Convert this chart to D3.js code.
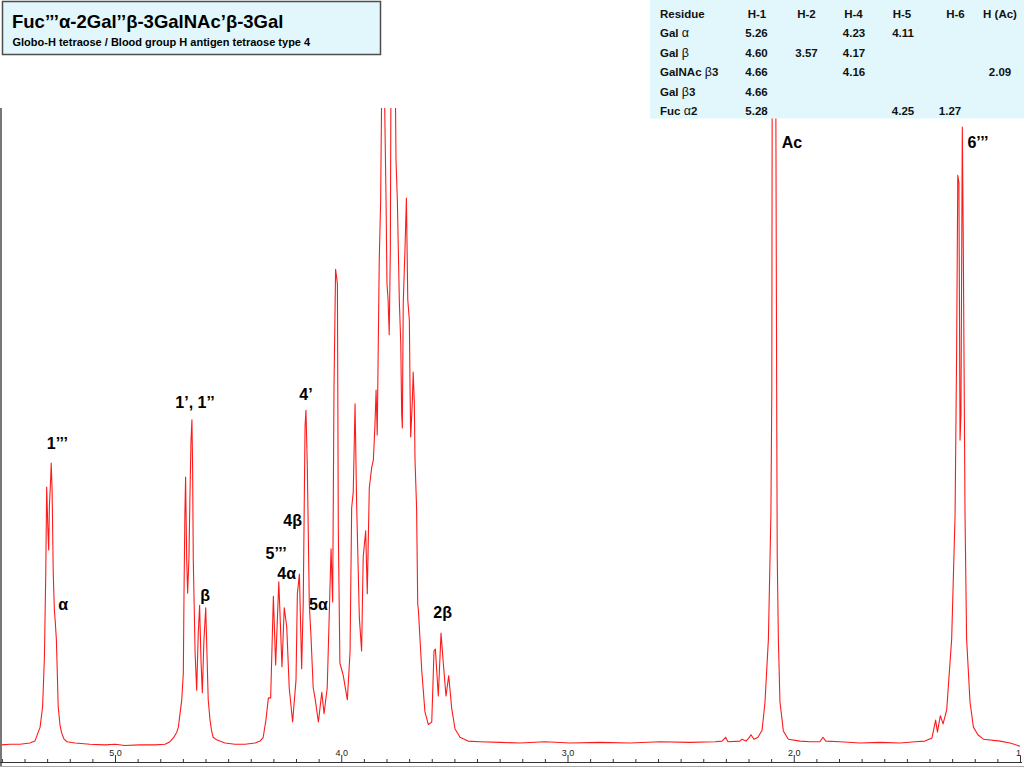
<!DOCTYPE html>
<html>
<head>
<meta charset="utf-8">
<script src="https://cdn.jsdelivr.net/npm/d3@7"></script>
<style>
body { margin: 0; background: #fff; }
svg { display: block; font-family: "Liberation Sans", Arial, sans-serif; }
</style>
</head>
<body>
<svg id="chart"></svg>
<script>
var width = 1024;
var height = 768;

// [chemical shift (ppm), intensity (% of plot height)]
var spectrum = [
  [5.508,-0.3],[5.464,-0.2],[5.420,-0.2],[5.376,0],[5.354,0.3],[5.331,2.5],[5.320,5.7],[5.312,13.5],
  [5.306,26.8],[5.302,40.3],[5.297,34.0],[5.293,30.4],[5.290,37.2],[5.284,41.9],[5.282,44.1],[5.278,39.8],
  [5.275,32.0],[5.273,26.8],[5.268,20.9],[5.264,19.1],[5.259,16.2],[5.251,5.7],[5.243,2.8],[5.236,1.6],
  [5.225,0.6],[5.212,0.2],[5.177,0],[5.111,-0.2],[5.044,-0.3],[5.000,-0.2],[4.956,-0.4],[4.890,-0.3],
  [4.823,-0.3],[4.779,-0.2],[4.757,0.2],[4.742,0.8],[4.727,1.7],[4.720,2.5],[4.705,6.8],[4.698,11.0],
  [4.695,23.6],[4.691,36.2],[4.688,41.9],[4.683,28.8],[4.679,23.6],[4.673,29.3],[4.669,38.3],[4.664,47.7],
  [4.660,50.9],[4.657,43.5],[4.654,28.8],[4.646,14.2],[4.639,8.3],[4.632,17.3],[4.626,21.7],[4.620,13.1],
  [4.614,7.9],[4.607,16.2],[4.599,21.3],[4.592,12.0],[4.588,6.8],[4.580,3.6],[4.573,1.9],[4.566,0.9],
  [4.551,0.5],[4.514,0],[4.470,-0.2],[4.425,-0.2],[4.381,0],[4.359,0.3],[4.345,0.9],[4.333,3.6],
  [4.322,7.1],[4.312,7.1],[4.300,23.1],[4.290,12.3],[4.276,25.4],[4.262,12.0],[4.252,21.3],[4.241,18.3],
  [4.230,8.7],[4.215,3.3],[4.200,9.9],[4.194,23.5],[4.185,26.6],[4.175,11.7],[4.168,22.2],[4.160,49.8],
  [4.156,52.4],[4.150,43.5],[4.141,21.6],[4.134,17.0],[4.124,8.7],[4.116,7.1],[4.101,3.3],[4.086,8.0],
  [4.076,4.6],[4.062,8.7],[4.050,24.1],[4.045,30.6],[4.038,22.2],[4.032,56.2],[4.025,74.6],[4.017,72.3],
  [4.013,33.7],[4.006,12.6],[3.991,10.6],[3.973,6.8],[3.961,14.5],[3.954,37.0],[3.947,39.5],[3.939,53.4],
  [3.932,37.6],[3.920,19.7],[3.910,14.5],[3.903,29.3],[3.892,33.4],[3.885,23.5],[3.876,40.2],[3.865,43.5],
  [3.858,44.6],[3.851,50.1],[3.846,55.6],[3.841,48.5],[3.836,63.9],[3.832,76.1],[3.826,85.0],[3.820,107.6],
  [3.811,107.6],[3.802,85.5],[3.798,72.4],[3.793,69.8],[3.788,64.3],[3.783,77.6],[3.780,107.6],[3.771,110.7],
  [3.762,107.6],[3.758,91.8],[3.752,85.5],[3.748,78.1],[3.743,69.3],[3.737,63.0],[3.733,52.0],[3.730,49.6],
  [3.726,69.3],[3.718,78.1],[3.712,85.8],[3.706,69.8],[3.699,66.6],[3.696,56.1],[3.693,48.2],[3.686,53.7],
  [3.682,58.4],[3.677,53.5],[3.674,44.6],[3.667,37.0],[3.662,21.9],[3.659,20.9],[3.644,11.3],[3.630,4.9],
  [3.615,2.9],[3.600,3.3],[3.590,14.5],[3.584,14.8],[3.571,7.4],[3.559,17.3],[3.549,12.6],[3.537,7.4],
  [3.525,10.6],[3.512,5.5],[3.497,2.2],[3.475,0.9],[3.440,0.3],[3.387,0.2],[3.298,0.1],[3.210,0],
  [3.099,0.2],[2.989,0],[2.856,0.1],[2.724,0],[2.591,0.2],[2.459,0.1],[2.348,0.2],[2.317,0.3],
  [2.301,0.9],[2.291,0.2],[2.238,0.3],[2.229,0.6],[2.211,0.3],[2.198,0.8],[2.189,1.3],[2.176,0.6],
  [2.158,0.9],[2.140,2.0],[2.127,6.5],[2.112,16.4],[2.101,35.9],[2.097,55.6],[2.095,110.7],[2.080,110.7],
  [2.075,49.0],[2.073,29.4],[2.068,16.4],[2.061,6.5],[2.046,1.9],[2.024,0.6],[1.972,0.3],[1.928,0.2],
  [1.884,0.2],[1.871,0.9],[1.858,0.3],[1.796,0.2],[1.707,0],[1.619,0.1],[1.530,0],[1.464,0.2],
  [1.420,0.3],[1.389,0.8],[1.373,3.6],[1.365,1.7],[1.352,4.3],[1.340,3.0],[1.324,5.2],[1.302,16.4],
  [1.287,35.9],[1.280,62.0],[1.275,89.4],[1.270,88.2],[1.265,47.7],[1.261,51.7],[1.255,97.0],[1.251,80.3],
  [1.243,35.9],[1.236,16.4],[1.221,6.5],[1.206,2.5],[1.186,1.3],[1.162,0.6],[1.088,0.3],[1.044,0],
  [1.000,-0.5]
];

var majorTicks = [5, 4, 3, 2, 1];
var minorTicks = [1.1,1.2,1.3,1.4,1.5,1.6,1.7,1.8,1.9,2.1,2.2,2.3,2.4,2.5,2.6,2.7,2.8,2.9,
  3.1,3.2,3.3,3.4,3.5,3.6,3.7,3.8,3.9,4.1,4.2,4.3,4.4,4.5,4.6,4.7,4.8,4.9,5.1,5.2,5.3,5.4,5.5];

// peak assignments, anchored in data units
var peakLabels = ["1\u2019\u2019\u2019", "\u03b1", "1\u2019, 1\u2019\u2019", "\u03b2", "4\u2019", "4\u03b2",
  "5\u2019\u2019\u2019", "4\u03b1", "5\u03b1", "2\u03b2", "Ac", "6\u2019\u2019\u2019"];
var labelPpm = [5.255, 5.229, 4.646, 4.602, 4.156, 4.215, 4.288, 4.241, 4.101, 3.552, 2.008, 1.186];
var labelLevel = [47.2, 21.9, 53.7, 23.3, 55.0, 35.1, 29.9, 26.7, 21.9, 20.6, 94.6, 94.6];

var titleText = "Fuc\u2019\u2019\u2019\u03b1-2Gal\u2019\u2019\u03b2-3GalNAc\u2019\u03b2-3Gal";
var subtitleText = "Globo-H tetraose / Blood group H antigen tetraose type 4";

var tableHeaders = ["Residue", "H-1", "H-2", "H-4", "H-5", "H-6", "H (Ac)"];
var residueNames = ["Gal \u03b1", "Gal \u03b2", "GalNAc \u03b23", "Gal \u03b23", "Fuc \u03b12"];
var shiftTable = [
  ["5.26", "", "4.23", "4.11", "", ""],
  ["4.60", "3.57", "4.17", "", "", ""],
  ["4.66", "", "4.16", "", "", "2.09"],
  ["4.66", "", "", "", "", ""],
  ["5.28", "", "", "4.25", "1.27", ""]
];

var svg = d3.select("#chart").attr("width", width).attr("height", height);

var x = d3.scaleLinear().domain([5, 1]).range([115, 1020]);
var y = d3.scaleLinear().domain([0, 100]).range([743, 108]);

var defs = svg.append("defs");
defs.append("clipPath").attr("id", "plotClip")
  .append("rect").attr("x", 1.5).attr("y", 108).attr("width", 1021).attr("height", 654);

// spectrum trace
var line = d3.line()
  .x(function(d){ return x(d[0]); })
  .y(function(d){ return y(d[1]); });

svg.append("path")
  .datum(spectrum)
  .attr("clip-path", "url(#plotClip)")
  .attr("d", line)
  .attr("fill", "none")
  .attr("stroke", "#ff1a1a")
  .attr("stroke-width", 1.1)
  .attr("stroke-linejoin", "round");

// frame and ppm axis
svg.append("line")
  .attr("x1", 1).attr("x2", 1).attr("y1", 108).attr("y2", 766)
  .attr("stroke", "#555").attr("stroke-width", 1.6);
svg.append("line")
  .attr("x1", 0).attr("x2", 1022).attr("y1", 762.5).attr("y2", 762.5)
  .attr("stroke", "#333").attr("stroke-width", 1.2);
svg.append("line")
  .attr("x1", 0).attr("x2", 1024).attr("y1", 766.5).attr("y2", 766.5)
  .attr("stroke", "#aaa").attr("stroke-width", 1);

var axisG = svg.append("g");

axisG.append("g")
  .attr("transform", "translate(0,762.5)")
  .call(d3.axisTop(x).tickValues(minorTicks).tickSize(3.5).tickSizeOuter(0).tickFormat(""));
var majorAxis = axisG.append("g")
  .attr("transform", "translate(0,762.5)")
  .call(d3.axisTop(x).tickValues(majorTicks).tickSize(7).tickSizeOuter(0)
    .tickPadding(0).tickFormat(function(d){ return d === 1 ? "1" : d3.format(".1f")(d); }));
axisG.selectAll(".domain").remove();
axisG.selectAll(".tick line").attr("stroke", "#333");
majorAxis.selectAll("text")
  .attr("font-size", 9)
  .attr("font-family", "Liberation Sans, Arial, sans-serif")
  .attr("fill", "#222")
  .attr("dx", function(d){ return d === 1 ? -2 : 0; });

// peak labels
svg.append("g").selectAll("text")
  .data(peakLabels)
  .enter()
  .append("text")
  .attr("x", function(d, i){ return x(labelPpm[i]); })
  .attr("y", function(d, i){ return y(labelLevel[i]); })
  .attr("dy", "0.36em")
  .attr("text-anchor", "middle")
  .attr("font-size", 16)
  .attr("font-weight", "bold")
  .attr("fill", "#000")
  .text(function(d){ return d; });

// title box
svg.append("rect")
  .attr("x", 2.5).attr("y", 1.5).attr("width", 378).attr("height", 53)
  .attr("fill", "#e2f7fb").attr("stroke", "#4d4d4d").attr("stroke-width", 1.5);
svg.append("text")
  .attr("x", 12).attr("y", 27.5)
  .attr("font-size", 18.5).attr("font-weight", "bold")
  .text(titleText);
svg.append("text")
  .attr("x", 12.5).attr("y", 45.5)
  .attr("font-size", 11).attr("font-weight", "bold")
  .text(subtitleText);

// shift table
var headerX = [660, 757, 806.5, 853.5, 902, 955.5, 1000];
var valueX = [756.5, 806.5, 854, 903, 950, 1000];
var rowY = function(i){ return 17.5 + i * 19.5; };

var table = svg.append("g").attr("font-size", 11.5).attr("font-weight", "bold").attr("fill", "#111");
table.append("rect")
  .attr("x", 650).attr("y", 0).attr("width", 374).attr("height", 118.5)
  .attr("fill", "#e2f7fb");

table.selectAll("text.head")
  .data(tableHeaders)
  .enter()
  .append("text")
  .attr("class", "head")
  .attr("x", function(d, i){ return headerX[i]; })
  .attr("y", rowY(0))
  .attr("text-anchor", function(d, i){ return i === 0 ? "start" : "middle"; })
  .text(function(d){ return d; });

var rows = table.selectAll("g.row")
  .data(shiftTable)
  .enter()
  .append("g")
  .attr("class", "row");

rows.append("text")
  .attr("x", headerX[0])
  .attr("y", function(d, i){ return rowY(i + 1); })
  .each(function(d, i){
    var parts = residueNames[i].split(/([\u03b1\u03b2])/);
    var t = d3.select(this);
    parts.forEach(function(p){
      if (p === "") return;
      t.append("tspan")
        .attr("font-weight", /[\u03b1\u03b2]/.test(p) ? "normal" : "bold")
        .attr("font-size", /[\u03b1\u03b2]/.test(p) ? 12.5 : 11.5)
        .text(p);
    });
  });

rows.each(function(d, i){
  d3.select(this).selectAll("text.val")
    .data(d)
    .enter()
    .append("text")
    .attr("class", "val")
    .attr("x", function(v, j){ return valueX[j]; })
    .attr("y", rowY(i + 1))
    .attr("text-anchor", "middle")
    .text(function(v){ return v; });
});
</script>
</body>
</html>
